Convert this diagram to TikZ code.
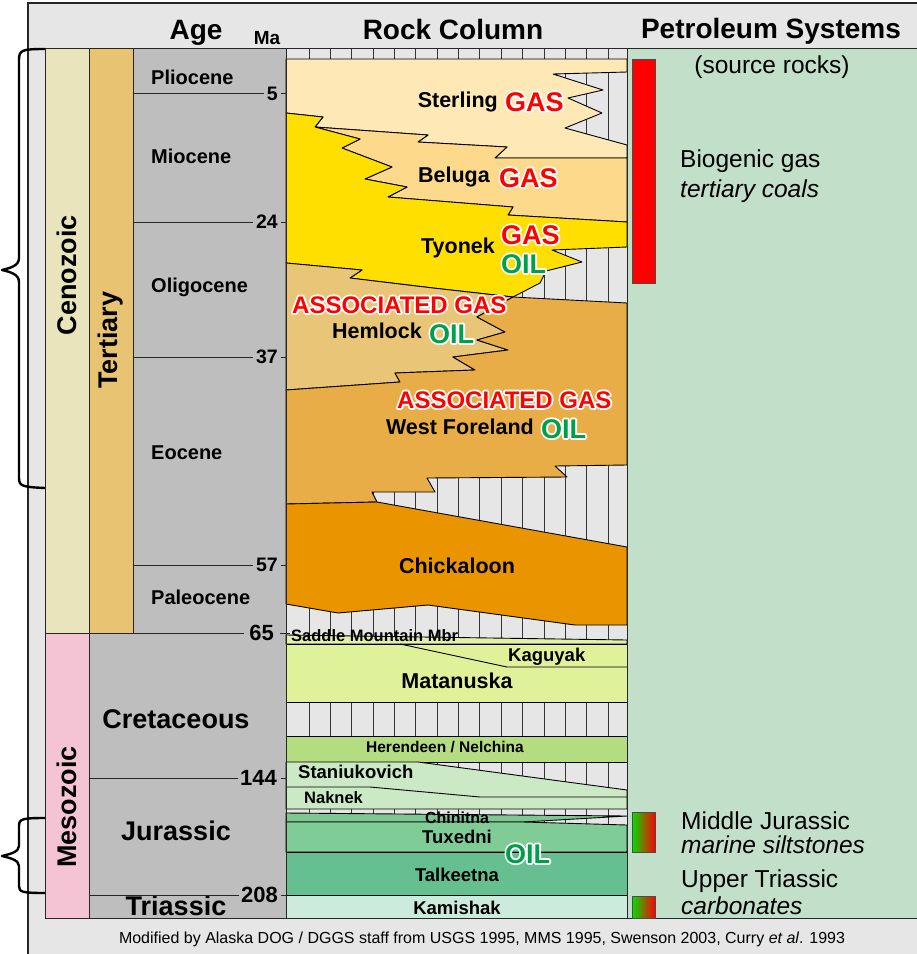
\documentclass[tikz,border=0pt]{standalone}
\usepackage{fontspec}
\setmainfont{Liberation Sans}
\definecolor{frameg}{HTML}{E6E6E6}
\definecolor{ageg}{HTML}{BEBEBE}
\definecolor{cenoz}{HTML}{E9E4BB}
\definecolor{tert}{HTML}{E8C472}
\definecolor{mesoz}{HTML}{F4C3D4}
\definecolor{hatchg}{HTML}{E6E6E6}
\definecolor{sterl}{HTML}{FEE9B6}
\definecolor{belug}{HTML}{FDD98B}
\definecolor{tyon}{HTML}{FFDF00}
\definecolor{heml}{HTML}{E9C577}
\definecolor{wfor}{HTML}{E9AD48}
\definecolor{chick}{HTML}{EA9400}
\definecolor{saddle}{HTML}{E3F1A6}
\definecolor{matan}{HTML}{DFF29A}
\definecolor{heren}{HTML}{B4DC80}
\definecolor{stan}{HTML}{CCE9C5}
\definecolor{chin}{HTML}{7DC890}
\definecolor{tuxe}{HTML}{80CC96}
\definecolor{talk}{HTML}{66BF91}
\definecolor{kami}{HTML}{CDEBDD}
\definecolor{petro}{HTML}{C2DFC9}
\definecolor{gasred}{HTML}{FF0000}
\definecolor{oilgreen}{RGB}{0,160,75}
\definecolor{bargreen}{RGB}{0,225,0}
% white outline drawn as stroked text (render mode 1), fill text on top
\newcommand\halo[2]{\rlap{\special{pdf:literal direct 1 Tr 3.6 w 1 j 1 J}{\color{white}#2}\special{pdf:literal direct 0 Tr}}{\color{#1}#2}}
\tikzset{
  hdr/.style={font=\fontsize{28}{30}\selectfont\bfseries, inner sep=0pt, anchor=base},
  era/.style={font=\fontsize{27}{29}\selectfont\bfseries, rotate=90, inner sep=0pt},
  epo/.style={font=\fontsize{20}{22}\selectfont\bfseries, inner sep=0pt, anchor=base west},
  per/.style={font=\fontsize{27}{29}\selectfont\bfseries, inner sep=0pt, anchor=base},
  numa/.style={font=\fontsize{19.5}{22}\selectfont\bfseries, inner sep=0pt, anchor=east},
  numb/.style={font=\fontsize{22}{24}\selectfont\bfseries, inner sep=0pt, anchor=east},
  fm/.style={font=\fontsize{21.5}{23}\selectfont\bfseries, inner sep=0pt},
  fmm/.style={font=\fontsize{18.5}{20}\selectfont\bfseries, inner sep=0pt},
  fms/.style={font=\fontsize{16.5}{18}\selectfont\bfseries, inner sep=0pt},
  hc/.style={font=\fontsize{27}{29}\selectfont\bfseries, inner sep=0pt},
  ag/.style={font=\fontsize{24}{26}\selectfont\bfseries, inner sep=0pt},
  ps/.style={font=\fontsize{24.5}{27}\selectfont, inner sep=0pt, anchor=base west},
  fmline/.style={draw=black, line width=0.9pt, line join=round},
  colbox/.style={draw=black!85, line width=1pt},
  ageline/.style={draw=black!85, line width=1pt},
  hatchline/.style={draw=black!80, line width=0.8pt},
  brace/.style={draw=black, line width=2.4pt, line join=round, line cap=round},
}
\begin{document}
\begin{tikzpicture}[x=1pt,y=-1pt]
\useasboundingbox (0,0) rectangle (917,954);
\clip (0,0) rectangle (917,954);
\fill[white] (0,0) rectangle (917,954);
% frame
\filldraw[fill=frameg, draw=black!85, line width=2pt] (28,3) rectangle (960,1000);
% braces
\draw[brace] (45,49) .. controls (22,49) and (19,50) .. (19,60) -- (19,258) .. controls (19,266) and (10,268) .. (2,270) .. controls (10,272) and (19,274) .. (19,282) -- (19,478) .. controls (19,486) and (22,487) .. (45,488);
\draw[brace] (45,818) .. controls (22,818) and (19,819) .. (19,826) -- (19,846) .. controls (19,852) and (10,854) .. (2,856) .. controls (10,858) and (19,860) .. (19,866) -- (19,886) .. controls (19,892) and (22,893) .. (45,893);
% era / period columns
\filldraw[colbox, fill=cenoz] (45,48) rectangle (89,633);
\filldraw[colbox, fill=mesoz] (45,633) rectangle (89,918);
\filldraw[colbox, fill=tert] (89,48) rectangle (133,633);
\filldraw[colbox, fill=ageg] (133,48) -- (286,48) -- (286,918) -- (89,918) -- (89,633) -- (133,633) -- cycle;
% rock column background with hatch
\fill[hatchg] (286,48) rectangle (627,918);
\foreach \k in {0,...,14} {\draw[hatchline] ({309+21.36*\k},48) -- ({309+21.36*\k},918);}
\draw[hatchline] (286,48) -- (627,48);
% formations
\filldraw[fmline, fill=sterl] (286,59) -- (627,59) -- (627,72) -- (553,74) -- (603,90) -- (568,98) -- (602,113) -- (565,128) -- (627,145) -- (627,158) -- (495,158) -- (507,147) -- (418,142) -- (428,135) -- (315,127) -- (323,117) -- (286,113) -- cycle;
\filldraw[fmline, fill=belug] (315,127) -- (428,135) -- (418,142) -- (507,147) -- (495,158) -- (627,158) -- (627,222) -- (508,215) -- (513,207) -- (388,197) -- (407,187) -- (365,179) -- (392,167) -- (342,148) -- (360,139) -- cycle;
\filldraw[fmline, fill=tyon] (286,113) -- (323,117) -- (315,127) -- (360,139) -- (342,148) -- (392,167) -- (365,179) -- (407,187) -- (388,197) -- (513,207) -- (508,215) -- (627,222) -- (627,247) -- (552,250) -- (582,262) -- (546,271) -- (540,283) -- (513,297) -- (433,288) -- (350,278) -- (362,270) -- (286,263) -- cycle;
\filldraw[fmline, fill=heml] (286,263) -- (362,270) -- (350,278) -- (433,288) -- (513,297) -- (477,317) -- (505,332) -- (477,340) -- (508,350) -- (453,357) -- (475,370) -- (395,373) -- (400,382) -- (286,390) -- cycle;
\filldraw[fmline, fill=wfor] (513,297) -- (627,303) -- (627,465) -- (555,466) -- (567,477) -- (427,478) -- (435,492) -- (372,492) -- (377,502) -- (286,504) -- (286,390) -- (400,382) -- (395,373) -- (475,370) -- (453,357) -- (508,350) -- (477,340) -- (505,332) -- (477,317) -- cycle;
\filldraw[fmline, fill=chick] (286,504) -- (377,502) -- (627,547) -- (627,625) -- (575,625) -- (428,605) -- (338,613) -- (286,604) -- cycle;
\filldraw[fmline, fill=saddle] (286,635) -- (627,640) -- (627,644) -- (286,644) -- cycle;
\filldraw[fmline, fill=matan] (286,644) rectangle (627,702);
\draw[fmline] (400,644) -- (507,667) -- (627,667);
\filldraw[fmline, fill=heren] (286,736) rectangle (627,762);
\filldraw[fmline, fill=stan] (286,762) -- (418,762) -- (627,790) -- (627,809) -- (286,809) -- cycle;
\draw[fmline] (286,787) -- (370,787) -- (480,797) -- (627,797);
\filldraw[fmline, fill=chin] (286,813) -- (627,816) -- (523,822) -- (286,822) -- cycle;
\filldraw[fmline, fill=tuxe] (286,822) -- (523,822) -- (627,825) -- (627,852) -- (286,852) -- cycle;
\filldraw[fmline, fill=talk] (286,852) rectangle (627,895);
\filldraw[fmline, fill=kami] (286,895) rectangle (627,918);
\draw[colbox] (286,48) rectangle (627,918);
% petroleum column
\filldraw[colbox, fill=petro] (627,48) rectangle (940,918);
\filldraw[fill=gasred, draw=black!70, line width=0.8pt] (632,59) rectangle (655,283);
\shade[left color=bargreen, right color=gasred] (632,812) rectangle (655,852);
\draw[black!70, line width=0.8pt] (632,812) rectangle (655,852);
\shade[left color=bargreen, right color=gasred] (632,896) rectangle (655,918);
\draw[black!70, line width=0.8pt] (632,896) rectangle (655,918);
% headers
\node[hdr] (hage) at (196,39) {Age};
\node[font=\fontsize{19}{20}\selectfont\bfseries, inner sep=0pt, anchor=base] (hma) at (267,44) {Ma};
\node[hdr] (hrock) at (453,39) {Rock Column};
\node[hdr] (hpet) at (771,38) {Petroleum Systems};
% eras
\node[era] (ceno) at (67,275) {Cenozoic};
\node[era] (tertl) at (111,340) {Tertiary};
\node[era] (meso) at (67,807) {Mesozoic};
% epochs
\node[epo] (plio) at (151,84) {Pliocene};
\node[epo] (mio) at (151,163) {Miocene};
\node[epo] (oligo) at (151,292) {Oligocene};
\node[epo] (eoc) at (151,459) {Eocene};
\node[epo] (paleo) at (151,604) {Paleocene};
\node[per] (cret) at (176,728) {Cretaceous};
\node[per] (jur) at (176,840) {Jurassic};
\node[per] (tri) at (176,915) {Triassic};
% age lines and numbers
\node[numa] (n5) at (278,94) {5};
\draw[ageline] (133,93) -- ([xshift=-3pt]n5.west |- 0,93);
\draw[ageline] (281,93) -- (286,93);
\node[numa] (n24) at (278,222) {24};
\draw[ageline] (133,222) -- ([xshift=-3pt]n24.west |- 0,222);
\draw[ageline] (281,222) -- (286,222);
\node[numa] (n37) at (278,357) {37};
\draw[ageline] (133,357) -- ([xshift=-3pt]n37.west |- 0,357);
\draw[ageline] (281,357) -- (286,357);
\node[numa] (n57) at (278,565) {57};
\draw[ageline] (133,565) -- ([xshift=-3pt]n57.west |- 0,565);
\draw[ageline] (281,565) -- (286,565);
\node[numb] (n65) at (274,633) {65};
\draw[ageline] (45,633) -- ([xshift=-5pt]n65.west |- 0,633);
\draw[ageline] (280,633) -- (290,633);
\node[numb] (n144) at (277,778) {144};
\draw[ageline] (89,778) -- ([xshift=-2pt]n144.west |- 0,778);
\draw[ageline] (281,778) -- (286,778);
\node[numb] (n208) at (278,895) {208};
\draw[ageline] (89,895) -- ([xshift=-2pt]n208.west |- 0,895);
\draw[ageline] (281,895) -- (286,895);
% formation labels
\node[fm, anchor=base east] (sterl) at (498,107) {Sterling};
\node[hc, anchor=base west] (g1) at (505,111) {\halo{gasred}{GAS}};
\node[fm, anchor=base east] (belu) at (490,182) {Beluga};
\node[hc, anchor=base west] (g2) at (499,187) {\halo{gasred}{GAS}};
\node[fm, anchor=base east] (tyo) at (495,253) {Tyonek};
\node[hc, anchor=base west] (g3) at (501,244) {\halo{gasred}{GAS}};
\node[hc, anchor=base west] (o1) at (501,273) {\halo{oilgreen}{OIL}};
\node[ag, anchor=base west] (ag1) at (292,313) {\halo{gasred}{ASSOCIATED GAS}};
\node[fm, anchor=base east] (hem) at (422,338) {Hemlock};
\node[hc, anchor=base west] (o2) at (429,343) {\halo{oilgreen}{OIL}};
\node[ag, anchor=base west] (ag2) at (397,408) {\halo{gasred}{ASSOCIATED GAS}};
\node[fm, anchor=base east] (wf) at (534,434) {West Foreland};
\node[hc, anchor=base west] (o3) at (541,438) {\halo{oilgreen}{OIL}};
\node[fm, anchor=base] (chk) at (457,573) {Chickaloon};
\node[fms, anchor=base west] (sad) at (291,641) {Saddle Mountain Mbr};
\node[fmm, anchor=base west] (kag) at (508,661) {Kaguyak};
\node[fm, anchor=base] (mat) at (457,688) {Matanuska};
\node[font=\fontsize{15.5}{17}\selectfont\bfseries, inner sep=0pt, anchor=base] (her) at (445,752) {Herendeen / Nelchina};
\node[fmm, anchor=base west] (stk) at (298,778) {Staniukovich};
\node[fms, anchor=base west] (nak) at (304,803) {Naknek};
\node[font=\fontsize{16}{17}\selectfont\bfseries, inner sep=0pt, anchor=base] (chn) at (457,823) {Chinitna};
\node[fmm, anchor=base] (tux) at (457,843) {Tuxedni};
\node[hc, anchor=base west] (o4) at (505,863) {\halo{oilgreen}{OIL}};
\node[fmm, anchor=base] (tal) at (457,881) {Talkeetna};
\node[fmm, anchor=base] (kam) at (457,914) {Kamishak};
% petroleum system texts
\node[font=\fontsize{24.5}{27}\selectfont, inner sep=0pt, anchor=base] (src) at (772,73) {(source rocks)};
\node[ps] (bio) at (680,167) {Biogenic gas};
\node[ps] (tco) at (680,197) {\itshape tertiary coals};
\node[ps] (mj) at (681,829) {Middle Jurassic};
\node[ps] (ms) at (681,853) {\itshape marine siltstones};
\node[ps] (ut) at (681,887) {Upper Triassic};
\node[ps] (cb) at (681,914) {\itshape carbonates};
% caption
\node[font=\fontsize{16}{18}\selectfont, inner sep=0pt, anchor=base] (cap) at (482,943) {Modified by Alaska DOG / DGGS staff from USGS 1995, MMS 1995, Swenson 2003, Curry \textit{et al}. 1993};
\end{tikzpicture}
\end{document}
